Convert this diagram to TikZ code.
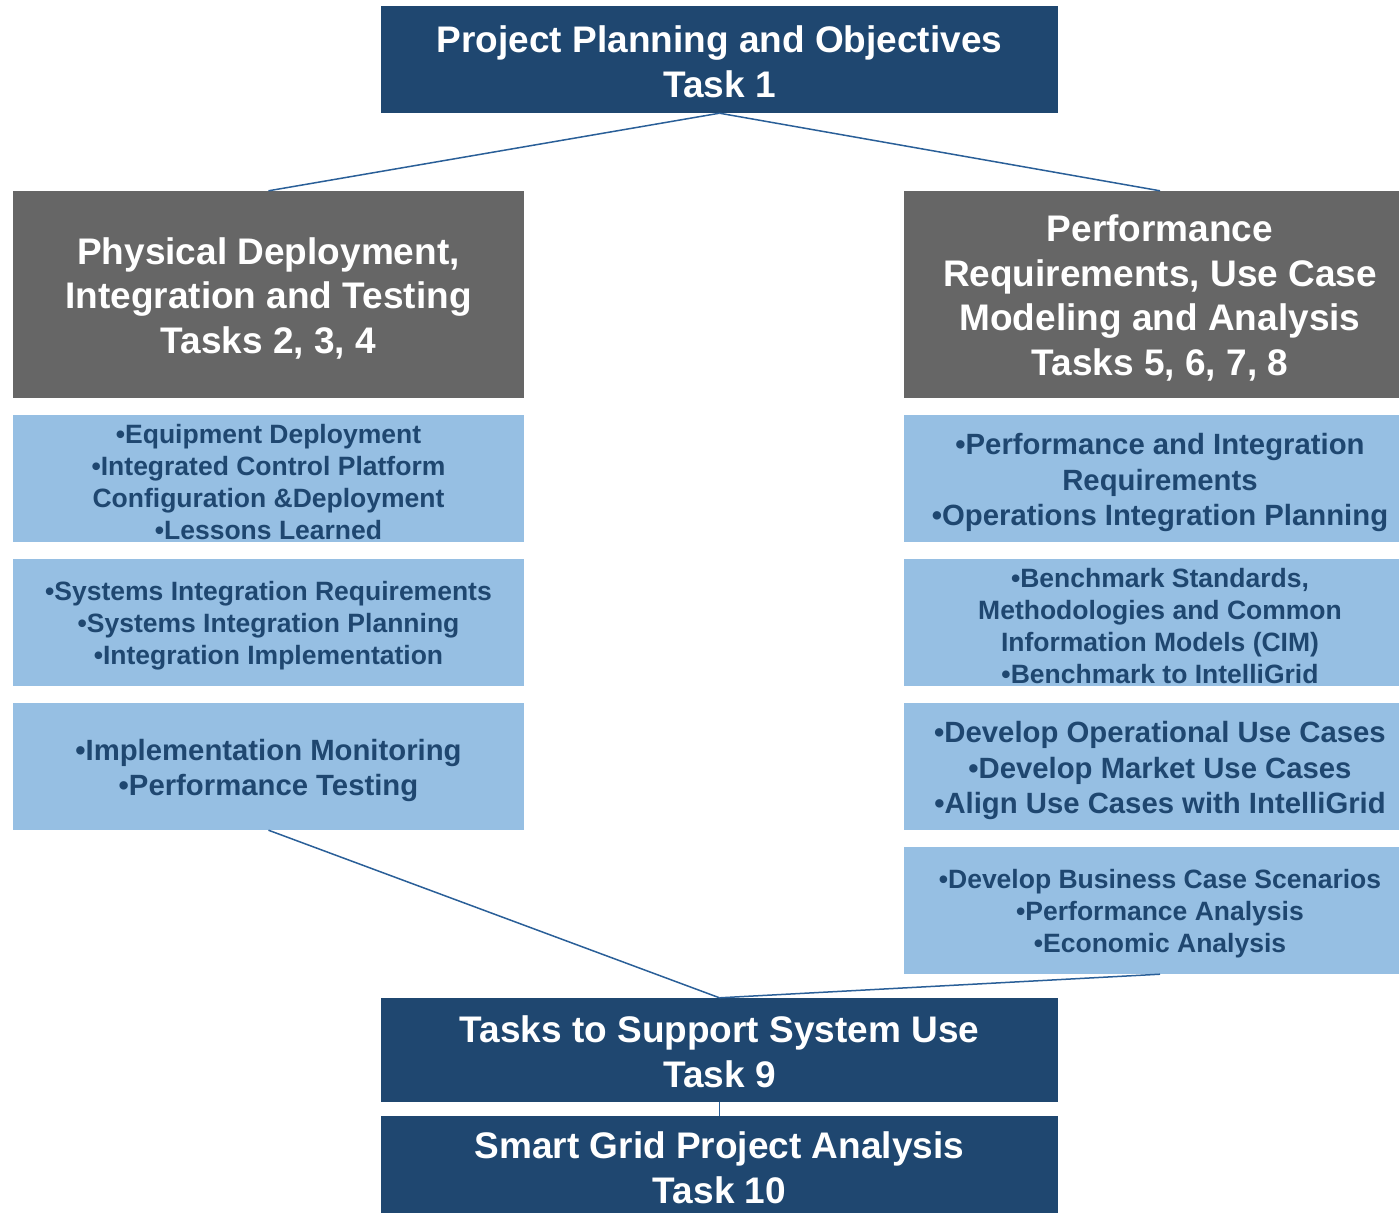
\documentclass[tikz,border=0pt]{standalone}
\usepackage{fontspec}
\setmainfont{Liberation Sans}
\definecolor{navy}{HTML}{1F4770}
\definecolor{greybox}{HTML}{666666}
\definecolor{lightbox}{HTML}{96BFE3}
\definecolor{linkblue}{HTML}{2A5F98}
\newcommand\BigDn{\rule{0pt}{31pt}}
\newcommand\GreyDn{\rule{0pt}{34pt}}
\newcommand\SmDn{\rule{0pt}{25.5pt}}
\newcommand\MidDn{\rule{0pt}{29.5pt}}
\begin{document}
\begin{tikzpicture}[x=1pt,y=-1pt,
  base/.style={rectangle,inner sep=0pt,align=center,font=\bfseries},
  navybox/.style={base,fill=navy,text=white,minimum width=677pt,minimum height=105pt,
    font=\bfseries\fontsize{37}{45}\selectfont},
  greyhead/.style={base,fill=greybox,text=white,minimum height=207pt,
    font=\bfseries\fontsize{37}{44.5}\selectfont},
  smallitem/.style={base,fill=lightbox,text=navy,minimum height=127pt,
    font=\bfseries\fontsize{26.5}{32}\selectfont},
  miditem/.style={base,fill=lightbox,text=navy,minimum height=127pt,
    font=\bfseries\fontsize{29.3}{35.3}\selectfont},
  link/.style={draw=linkblue,line width=1.5pt}]
\useasboundingbox (0,0) rectangle (1399,1212);

\node[navybox,minimum height=107pt] (t1) at (719.5,59.5) {\BigDn Project Planning and Objectives\\Task 1};

\node[greyhead,minimum width=511pt] (lg) at (268.5,294.5) {\GreyDn Physical Deployment,\\Integration and Testing\\Tasks 2, 3, 4};
\node[greyhead,minimum width=512pt] (rg) at (1160,294.5) {\GreyDn Performance\\Requirements, Use Case\\Modeling and Analysis\\Tasks 5, 6, 7, 8};

\node[smallitem,minimum width=511pt] (l1) at (268.5,478.5) {\SmDn •Equipment Deployment\\•Integrated Control Platform\\Configuration \&Deployment\\•Lessons Learned};
\node[smallitem,minimum width=511pt] (l2) at (268.5,622.5) {\SmDn •Systems Integration Requirements\\•Systems Integration Planning\\•Integration Implementation};
\node[miditem,minimum width=511pt] (l3) at (268.5,766.5) {\MidDn •Implementation Monitoring\\•Performance Testing};

\node[miditem,minimum width=512pt] (r1) at (1160,478.5) {\MidDn •Performance and Integration\\Requirements\\•Operations Integration Planning};
\node[smallitem,minimum width=512pt] (r2) at (1160,622.5) {\SmDn •Benchmark Standards,\\Methodologies and Common\\Information Models (CIM)\\•Benchmark to IntelliGrid};
\node[miditem,minimum width=512pt] (r3) at (1160,766.5) {\MidDn •Develop Operational Use Cases\\•Develop Market Use Cases\\•Align Use Cases with IntelliGrid};
\node[smallitem,minimum width=512pt] (r4) at (1160,910.5) {\SmDn •Develop Business Case Scenarios\\•Performance Analysis\\•Economic Analysis};

\node[navybox,minimum height=104pt] (t9) at (719.5,1050) {\BigDn Tasks to Support System Use\\Task 9};
\node[navybox,minimum height=104pt] (t10) at (719.5,1168) {Smart Grid Project Analysis\\Task 10};

\draw[link] (t1.south) -- (lg.north);
\draw[link] (t1.south) -- (rg.north);
\draw[link] (l3.south) -- (t9.north);
\draw[link] (r4.south) -- (t9.north);
\draw[link] (t9.south) -- (t10.north);
\end{tikzpicture}
\end{document}
